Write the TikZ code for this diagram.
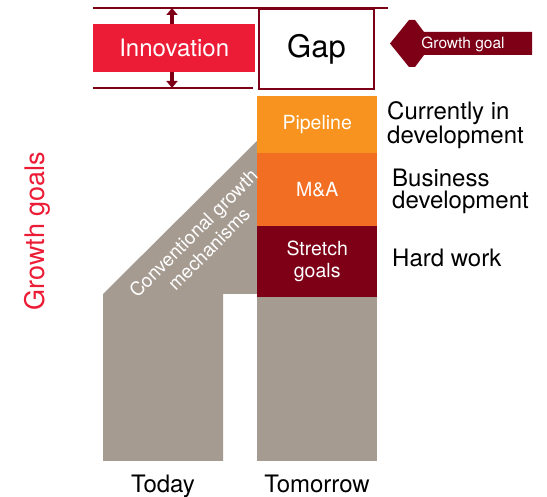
\documentclass[tikz,border=0pt]{standalone}
\usepackage{fontspec}
\setmainfont{TeX Gyre Heros}
\usetikzlibrary{arrows.meta}
\definecolor{gapred}{HTML}{ED1C36}
\definecolor{gapmaroon}{HTML}{7D0017}
\definecolor{gaporange}{HTML}{F7931E}
\definecolor{gapdeeporange}{HTML}{F26E22}
\definecolor{gapgrey}{HTML}{A69B91}
\tikzset{
  barbox/.style={anchor=north west, minimum width=120pt, inner sep=0pt, text=white, align=center, font=\fontsize{19.5}{22}\selectfont},
  sidelabel/.style={inner sep=0pt, align=left, font=\fontsize{24}{22}\selectfont},
  axislabel/.style={inner sep=0pt, anchor=base, font=\fontsize{24}{26}\selectfont},
  rule/.style={gapmaroon, line width=2pt},
  push/.style={gapmaroon, line width=4pt, -{Triangle[width=11pt,length=7pt]}}
}

\begin{document}
\begin{tikzpicture}[x=1pt,y=-1pt]
\useasboundingbox (0,0) rectangle (547,497);

\fill [gapgrey] (103,461) -- (103,294) -- (257,141) -- (257,294) -- (223,294) -- (223,461) -- cycle;
\fill [gapgrey] (257,297) rectangle (377,461);

\node [barbox, fill=gaporange, minimum height=57pt] (pipeline) at (257,96) {Pipeline};
\node [barbox, fill=gapdeeporange, minimum height=73pt] (manda) at (257,153) {M\&A};
\node [barbox, fill=gapmaroon, minimum height=71pt] (stretch) at (257,226) {Stretch\\goals};

\node [rotate=45, text=white, align=center, inner sep=0pt, font=\fontsize{19}{22}\selectfont] (conventional) at (201,241) {Conventional growth\\mechanisms};

\draw [rule] (93,8) -- (388,8);
\draw [rule] (93,88) -- (253,88);
\coordinate (ceiling) at (172,8);
\coordinate (floor) at (172,88);

\node [fill=gapred, anchor=north west, minimum width=162pt, minimum height=48pt, inner sep=0pt, text=white, font=\fontsize{24}{26}\selectfont] (innovation) at (93,24) {Innovation};
\draw [push] (innovation.north -| ceiling) -- (ceiling);
\draw [push] (innovation.south -| floor) -- (floor);

\node [draw=gapmaroon, line width=2pt, fill=white, minimum width=115pt, minimum height=80pt, inner sep=0pt, font=\fontsize{31}{34}\selectfont] (gap) at (316.5,49) {Gap};

\fill [gapmaroon] (390,43.5) -- (409,20) -- (415,20) -- (424,32) -- (532,32) -- (532,55) -- (424,55) -- (415,67) -- (409,67) -- cycle;
\node [text=white, inner sep=0pt, font=\fontsize{15.5}{18}\selectfont] (growthgoal) at (463,44) {Growth goal};

\node [sidelabel, anchor=west] (current) at (387,125) {Currently in\\development};
\node [sidelabel, anchor=west] (business) at (392,191) {Business\\development};
\node [sidelabel, anchor=base west] (hardwork) at (392,267) {Hard work};

\node [rotate=90, text=gapred, inner sep=0pt, anchor=base, font=\fontsize{27}{30}\selectfont] (growthgoals) at (45,231) {Growth goals};

\node [axislabel] (today) at (163,493) {Today};
\node [axislabel] (tomorrow) at (317,493) {Tomorrow};
\end{tikzpicture}
\end{document}
